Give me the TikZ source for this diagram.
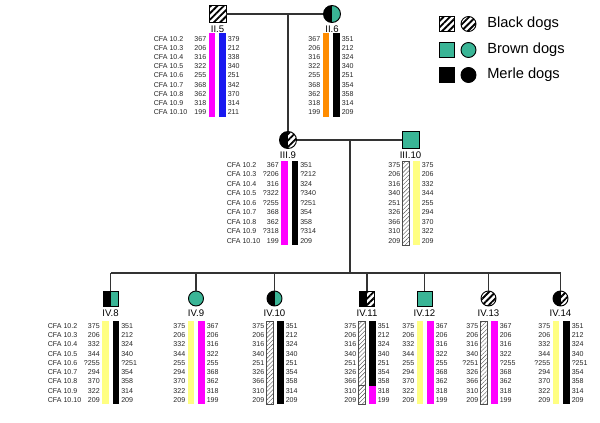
\documentclass[tikz,border=0pt]{standalone}
\usepackage{fontspec}
\setmainfont{Liberation Sans}
\usetikzlibrary{patterns.meta, positioning}
\definecolor{dogteal}{RGB}{58, 181, 150}
\definecolor{hapmagenta}{RGB}{255, 0, 255}
\definecolor{hapblue}{RGB}{25, 25, 240}
\definecolor{haporange}{RGB}{255, 140, 0}
\definecolor{hapyellow}{RGB}{255, 255, 130}

% allele numbers either side of a pair of bars
\newcommand{\allelecol}[6]{%
  \foreach \al [count=\i from 0] in {#5}
    \node[num, anchor=east] (#1l\i) at ({#2-10}, {#3+\i*#4}) {\al};
  \foreach \al [count=\i from 0] in {#6}
    \node[num, anchor=west] (#1r\i) at ({#2+10}, {#3+\i*#4}) {\al};
}
\newcommand{\cfacol}[4]{%
  \foreach \m [count=\i from 0] in {2,...,10}
    \node[num, anchor=west] (#1\m) at (#2, {#3+\i*#4}) {CFA 10.\m};
}
\newcommand{\hapbars}[5]{%
  \path[#4] ({#1-8.5}, #2) rectangle ({#1-2}, #3);
  \path[#5] ({#1+2}, #2) rectangle ({#1+8.5}, #3);
}

\begin{document}
\begin{tikzpicture}[x=0.75pt, y=-0.75pt,
    pedline/.style={draw=black!80, line width=1pt},
    bigsym/.style={draw, line width=0.7pt, minimum size=12.75pt, inner sep=0pt},
    smallsym/.style={draw, line width=0.7pt, minimum size=11.25pt, inner sep=0pt},
    blackdog/.style={pattern={Lines[angle=45, distance=3.4pt, line width=1.4pt]}},
    browndog/.style={fill=dogteal},
    merledog/.style={fill=black},
    lefthalf/.style={path picture={\fill[black] (path picture bounding box.south west)
        rectangle (path picture bounding box.north);}},
    num/.style={font=\fontsize{5.3}{6}\selectfont, inner sep=0.4pt, text=black!85},
    lbl/.style={font=\fontsize{7.2}{8}\selectfont, inner sep=0.5pt},
    legtext/.style={font=\fontsize{11}{13}\selectfont, anchor=west, inner sep=0pt},
    magbar/.style={fill=hapmagenta},
    bluebar/.style={fill=hapblue},
    orangebar/.style={fill=haporange},
    yellowbar/.style={fill=hapyellow},
    blackbar/.style={fill=black},
    hatchbar/.style={draw=black!70, line width=0.4pt, pattern color=black!70,
        pattern={Lines[angle=45, distance=2.2pt, line width=0.3pt]}}
]
    \useasboundingbox (0,0) rectangle (600,422);

    % legend
    \node[smallsym, rectangle, blackdog] (legbs) at (446.5,24) {};
    \node[smallsym, circle, blackdog] (legbc) at (468.5,24) {};
    \node[legtext] (legb) at (487,24) {Black dogs};
    \node[smallsym, rectangle, browndog] (legts) at (446.5,50) {};
    \node[smallsym, circle, browndog] (legtc) at (468.5,50) {};
    \node[legtext] (legt) at (487,50) {Brown dogs};
    \node[smallsym, rectangle, merledog] (legms) at (446.5,75) {};
    \node[smallsym, circle, merledog] (legmc) at (468.5,75) {};
    \node[legtext] (legm) at (487,75) {Merle dogs};

    % generation II
    \node[bigsym, rectangle, blackdog] (ii5) at (217.5,14) {};
    \node[bigsym, circle, browndog, lefthalf] (ii6) at (332,14) {};
    \node[lbl, below=1.5pt of ii5] (ii5-lab) {II.5};
    \node[lbl, below=1.5pt of ii6] (ii6-lab) {II.6};
    \draw[pedline] (ii5.east) -- (ii6.west);

    \cfacol{iicfa}{153}{39}{9.125}
    \hapbars{217}{33}{117}{magbar}{bluebar}
    \allelecol{iia}{217}{39}{9.125}{367,206,316,322,255,368,362,318,199}{379,212,338,340,251,342,370,314,211}
    \hapbars{331}{33}{117}{orangebar}{blackbar}
    \allelecol{iib}{331}{39}{9.125}{367,206,316,322,255,368,362,318,199}{351,212,324,340,251,354,358,314,209}

    % generation III
    \coordinate (m1) at (288,14);
    \node[bigsym, circle, blackdog, lefthalf] (iii9) at (288,140) {};
    \node[bigsym, rectangle, browndog] (iii10) at (410.5,140) {};
    \node[lbl, below=1.5pt of iii9] (iii9-lab) {III.9};
    \node[lbl, below=1.5pt of iii10] (iii10-lab) {III.10};
    \draw[pedline] (m1) -- (iii9.north);
    \draw[pedline] (iii9.east) -- (iii10.west);

    \cfacol{iiicfa}{226}{165}{9.5}
    \hapbars{289.5}{161}{245}{magbar}{blackbar}
    \allelecol{iiia}{289.5}{165}{9.5}{367,?206,316,?322,?255,368,362,?318,199}{351,?212,324,?340,?251,354,358,?314,209}
    \hapbars{411}{161}{245}{hatchbar}{yellowbar}
    \allelecol{iiib}{411}{165}{9.5}{375,206,316,340,251,326,366,310,209}{375,206,332,344,255,294,370,322,209}

    % generation IV
    \coordinate (m2) at (350,140);
    \coordinate (sib) at (350,273);
    \draw[pedline] (m2) -- (sib);
    \node[smallsym, rectangle, browndog, lefthalf] (iv8) at (110.5,298.5) {};
    \node[smallsym, circle, browndog] (iv9) at (196,298.5) {};
    \node[smallsym, circle, browndog, lefthalf] (iv10) at (274.5,298.5) {};
    \node[smallsym, rectangle, blackdog, lefthalf] (iv11) at (367,298.5) {};
    \node[smallsym, rectangle, browndog] (iv12) at (424.5,298.5) {};
    \node[smallsym, circle, blackdog] (iv13) at (488.5,298.5) {};
    \node[smallsym, circle, blackdog, lefthalf] (iv14) at (560.5,298.5) {};
    \draw[pedline] (iv8.north |- sib) -- (iv14.north |- sib);
    \foreach \c/\t in {iv8/IV.8, iv9/IV.9, iv10/IV.10, iv11/IV.11, iv12/IV.12, iv13/IV.13, iv14/IV.14} {
        \draw[pedline] (\c.north) -- (\c.north |- sib);
        \node[lbl, below=2pt of \c] (\c-lab) {\t};
    }

    \cfacol{ivcfa}{47}{326}{9.25}
    \hapbars{110.5}{321}{404}{yellowbar}{blackbar}
    \allelecol{iv8}{110.5}{326}{9.25}{375,206,332,344,?255,294,370,322,209}{351,212,324,340,?251,354,358,314,209}
    \hapbars{196}{321}{404}{yellowbar}{magbar}
    \allelecol{iv9}{196}{326}{9.25}{375,206,332,344,255,294,370,322,209}{367,206,316,322,255,368,362,318,199}
    \hapbars{275}{321}{404}{hatchbar}{blackbar}
    \allelecol{iv10}{275}{326}{9.25}{375,206,316,340,251,326,366,310,209}{351,212,324,340,251,354,358,314,209}
    \hapbars{367}{321}{385.6}{hatchbar}{blackbar}
    \path[hatchbar] (358.5,385.6) rectangle (365,404);
    \path[magbar] (369,385.6) rectangle (375.5,404);
    \allelecol{iv11}{367}{326}{9.25}{375,206,316,340,251,326,366,310,209}{351,212,324,340,251,354,358,318,199}
    \hapbars{425}{321}{404}{yellowbar}{magbar}
    \allelecol{iv12}{425}{326}{9.25}{375,206,332,344,255,294,370,322,209}{367,206,316,322,255,368,362,318,199}
    \hapbars{489}{321}{404}{hatchbar}{magbar}
    \allelecol{iv13}{489}{326}{9.25}{375,206,316,340,?251,326,366,310,209}{367,206,316,322,?255,368,362,318,199}
    \hapbars{561}{321}{404}{yellowbar}{blackbar}
    \allelecol{iv14}{561}{326}{9.25}{375,206,332,344,?255,294,370,322,209}{351,212,324,340,?251,354,358,314,209}
\end{tikzpicture}
\end{document}
